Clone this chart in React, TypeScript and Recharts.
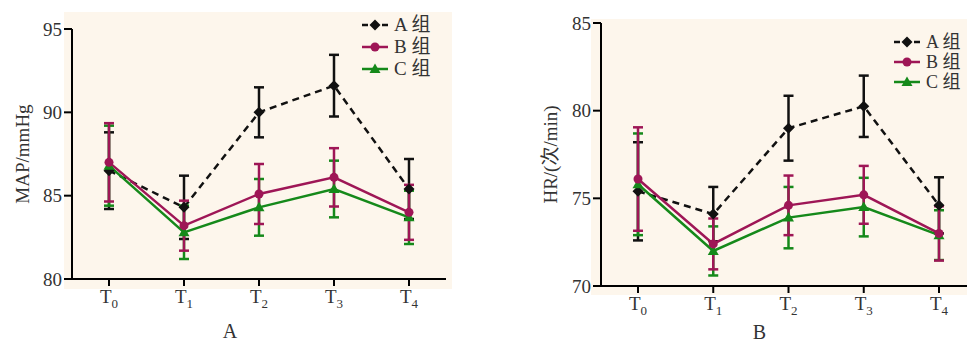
import React from 'react'
import { LineChart, Line, XAxis, YAxis, ErrorBar, Legend, Label } from 'recharts'

// time points T0..T4 (subscript digit only)
const periods = ['0', '1', '2', '3', '4']
const groupNames = ['A 组', 'B 组', 'C 组']

// MAP (mmHg)
const mapTicks = [80, 85, 90, 95]
const mapA = [86.5, 84.3, 90.0, 91.6, 85.4]
const mapAErr = [2.3, 1.9, 1.5, 1.85, 1.8]
const mapB = [87.0, 83.2, 85.1, 86.1, 84.0]
const mapBErr = [2.35, 1.5, 1.8, 1.75, 1.65]
const mapC = [86.8, 82.8, 84.3, 85.4, 83.7]
const mapCErr = [2.4, 1.6, 1.7, 1.7, 1.6]

// HR (次/min)
const hrTicks = [70, 75, 80, 85]
const hrA = [75.4, 74.1, 79.0, 80.25, 74.6]
const hrAErr = [2.8, 1.55, 1.85, 1.75, 1.6]
const hrB = [76.1, 72.4, 74.6, 75.2, 73.0]
const hrBErr = [2.95, 1.45, 1.7, 1.65, 1.55]
const hrC = [75.8, 72.0, 73.9, 74.5, 72.9]
const hrCErr = [2.9, 1.4, 1.75, 1.67, 1.42]

const FONT = '"Liberation Serif", "Noto Sans CJK SC", serif'
const TEXT = '#333'
const COLORS = ['#111111', '#9e1656', '#15891a']
const BG = '#fdf6ec'

const build = (a: number[], ae: number[], b: number[], be: number[], c: number[], ce: number[]) =>
  periods.map((p, i) => ({ p, a: a[i], ae: ae[i], b: b[i], be: be[i], c: c[i], ce: ce[i] }))

const mapData = build(mapA, mapAErr, mapB, mapBErr, mapC, mapCErr)
const hrData = build(hrA, hrAErr, hrB, hrBErr, hrC, hrCErr)

// eslint-disable-next-line @typescript-eslint/no-explicit-any
function Marker({ kind, cx, cy }: any) {
  if (cx == null || cy == null) return null
  if (kind === 0) {
    return <polygon points={`${cx},${cy - 5.5} ${cx + 5.5},${cy} ${cx},${cy + 5.5} ${cx - 5.5},${cy}`} fill={COLORS[0]} />
  }
  if (kind === 1) return <circle cx={cx} cy={cy} r={4.5} fill={COLORS[1]} />
  return <polygon points={`${cx},${cy - 5.5} ${cx + 5.5},${cy + 4} ${cx - 5.5},${cy + 4}`} fill={COLORS[2]} />
}

// eslint-disable-next-line @typescript-eslint/no-explicit-any
function TTick({ x, y, payload }: any) {
  return (
    <text x={x} y={y} dy="0.72em" textAnchor="middle" fill={TEXT} fontFamily={FONT} fontSize={19}>
      <tspan>T</tspan>
      <tspan fontSize={13} dy={5}>{payload.value}</tspan>
    </text>
  )
}

function legendContent(rowH: number, fontSize: number) {
  return () => (
    <div style={{ fontFamily: FONT, fontSize, color: TEXT, lineHeight: `${rowH}px` }}>
      {groupNames.map((g, i) => (
        <div key={g} style={{ display: 'flex', alignItems: 'center', height: rowH, whiteSpace: 'nowrap' }}>
          <svg width={30} height={14} style={{ marginRight: 3 }}>
            <line x1={1} y1={7} x2={27} y2={7} stroke={COLORS[i]} strokeWidth={2.5}
              strokeDasharray={i === 0 ? '6 4' : undefined} />
            <Marker kind={i} cx={14} cy={7} />
          </svg>
          <span>{g}</span>
        </div>
      ))}
    </div>
  )
}

type PanelProps = {
  // eslint-disable-next-line @typescript-eslint/no-explicit-any
  data: any[]
  ticks: number[]
  yLabel: string
  xLabel: string
  width: number
  top: number
  yAxisW: number
  xAxisH: number
  right: number
  yLabelX: number
  xLabelY: number
  legendPos: { left: number; top: number }
  legendRow: number
  legendFont: number
}

function Panel(p: PanelProps) {
  const axisStyle = { stroke: '#000', strokeWidth: 2 }
  return (
    <LineChart width={p.width} height={343} data={p.data}
      margin={{ top: p.top, right: p.right, bottom: 0, left: 0 }}>
      <XAxis dataKey="p" axisLine={axisStyle} tickLine={axisStyle} tickSize={7} tickMargin={3}
        height={p.xAxisH} padding={{ left: 37, right: 37 }} tick={<TTick />} interval={0}>
        <Label content={({ viewBox }: any) => (
          <text x={viewBox.x + viewBox.width / 2 - 29} y={viewBox.y + p.xLabelY} textAnchor="middle"
            fill={TEXT} fontFamily={FONT} fontSize={20}>{p.xLabel}</text>
        )} />
      </XAxis>
      <YAxis type="number" domain={[p.ticks[0], p.ticks[p.ticks.length - 1]]} ticks={p.ticks}
        width={p.yAxisW} axisLine={axisStyle} tickLine={axisStyle} tickSize={8} tickMargin={2}
        tick={{ fill: TEXT, fontFamily: FONT, fontSize: 19 }} allowDataOverflow>
        <Label content={({ viewBox }: any) => {
          const cy = viewBox.y + viewBox.height / 2
          return (
            <text x={p.yLabelX} y={cy} dy="0.35em" textAnchor="middle" transform={`rotate(-90, ${p.yLabelX}, ${cy})`}
              fill={TEXT} fontFamily={FONT} fontSize={19}>{p.yLabel}</text>
          )
        }} />
      </YAxis>
      <Legend layout="horizontal" verticalAlign="middle" align="center"
        wrapperStyle={{ left: p.legendPos.left, top: p.legendPos.top, width: 'auto' }}
        content={legendContent(p.legendRow, p.legendFont)} />
      <Line dataKey="a" stroke={COLORS[0]} strokeWidth={2.5} strokeDasharray="7 5" isAnimationActive={false}
        dot={(d: any) => <Marker key={`a${d.index}`} kind={0} cx={d.cx} cy={d.cy} />}>
        <ErrorBar dataKey="ae" direction="y" width={5} stroke={COLORS[0]} strokeWidth={2.5} />
      </Line>
      <Line dataKey="c" stroke={COLORS[2]} strokeWidth={2.5} isAnimationActive={false}
        dot={(d: any) => <Marker key={`c${d.index}`} kind={2} cx={d.cx} cy={d.cy} />}>
        <ErrorBar dataKey="ce" direction="y" width={5} stroke={COLORS[2]} strokeWidth={2.5} />
      </Line>
      <Line dataKey="b" stroke={COLORS[1]} strokeWidth={2.5} isAnimationActive={false}
        dot={(d: any) => <Marker key={`b${d.index}`} kind={1} cx={d.cx} cy={d.cy} />}>
        <ErrorBar dataKey="be" direction="y" width={5} stroke={COLORS[1]} strokeWidth={2.5} />
      </Line>
    </LineChart>
  )
}

export default function App() {
  return (
    <div style={{ position: 'fixed', left: 0, top: 0, width: 967, height: 343, overflow: 'hidden', background: '#fff' }}>
      <div style={{ position: 'absolute', left: 64, top: 12, width: 388, height: 277, background: BG }} />
      <div style={{ position: 'absolute', left: 591, top: 19, width: 400, height: 276, background: BG }} />
      <div style={{ position: 'absolute', left: 0, top: 0 }}>
        <Panel data={mapData} ticks={mapTicks} yLabel="MAP/mmHg" xLabel="A" width={480} top={29}
          yAxisW={72} xAxisH={64} right={34} yLabelX={22} xLabelY={59}
          legendPos={{ left: 361, top: 14 }} legendRow={22} legendFont={19} />
      </div>
      <div style={{ position: 'absolute', left: 487, top: 0 }}>
        <Panel data={hrData} ticks={hrTicks} yLabel="HR/(次/min)" xLabel="B" width={500} top={23}
          yAxisW={114} xAxisH={57} right={11} yLabelX={63} xLabelY={53}
          legendPos={{ left: 406, top: 32 }} legendRow={20} legendFont={18} />
      </div>
    </div>
  )
}
